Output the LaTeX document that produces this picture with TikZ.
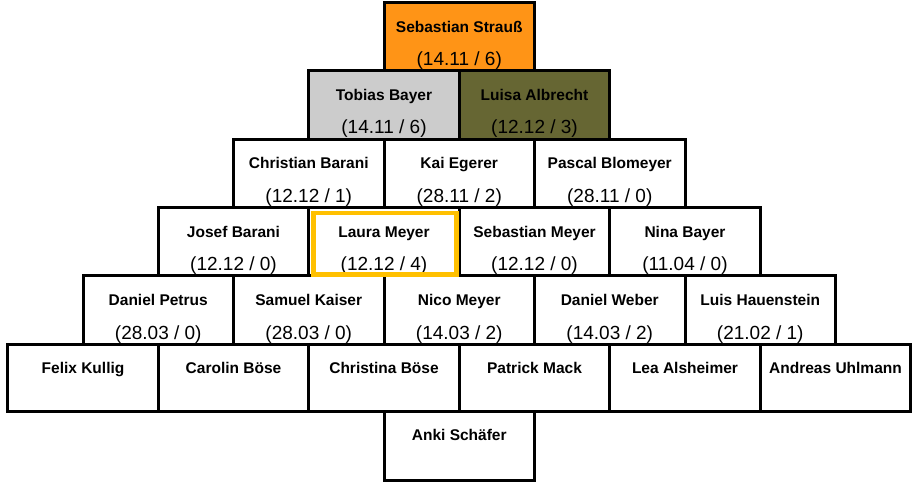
\documentclass[tikz,border=0pt]{standalone}
\usepackage{fontspec}
\setmainfont{Liberation Sans}
\usetikzlibrary{calc}
\definecolor{sorange}{RGB}{255,148,22}
\definecolor{sgrey}{RGB}{204,204,204}
\definecolor{solive}{RGB}{102,102,51}
\definecolor{syellow}{RGB}{255,192,0}
\pgfdeclarelayer{bg}
\pgfsetlayers{bg,main}
\tikzset{
  cellbox/.style={draw=black, line width=3pt, rectangle, inner sep=0pt, outer sep=0pt,
    minimum width=150.5pt, minimum height=#1, anchor=north west},
  cellbox/.default=68pt,
  nametext/.style={font=\fontsize{15.5}{16}\selectfont\bfseries, inner sep=0pt, text=black, anchor=base},
  datetext/.style={font=\fontsize{19}{20}\selectfont, inner sep=0pt, text=black, anchor=base},
  hilite/.style={draw=syellow, line width=4.5pt}
}
\newcommand\pcell[7]{% id, x, y, height, fill, name, date
  \begin{pgfonlayer}{bg}
    \node[cellbox=#4, fill=#5] (#1) at (#2,#3) {};
  \end{pgfonlayer}
  \node[nametext] (#1n) at ($(#1.north)+(0,29.5)$) {#6};
  \node[datetext] (#1d) at ($(#1.north)+(0,63)$) {#7};
}
\begin{document}
\begin{tikzpicture}[x=1pt,y=-1pt]
\useasboundingbox (0,0) rectangle (918,486);
% row 0
\pcell{a0}{384}{3}{68pt}{sorange}{Sebastian Strauß}{(14.11 / 6)}
% row 1
\pcell{b0}{308.75}{71}{68.5pt}{sgrey}{Tobias Bayer}{(14.11 / 6)}
\pcell{b1}{459.25}{71}{68.5pt}{solive}{Luisa Albrecht}{(12.12 / 3)}
% row 2
\pcell{c0}{233.5}{139.5}{68.5pt}{white}{Christian Barani}{(12.12 / 1)}
\pcell{c1}{384}{139.5}{68.5pt}{white}{Kai Egerer}{(28.11 / 2)}
\pcell{c2}{534.5}{139.5}{68.5pt}{white}{Pascal Blomeyer}{(28.11 / 0)}
% row 3
\pcell{d0}{158.25}{208}{68pt}{white}{Josef Barani}{(12.12 / 0)}
\pcell{d1}{308.75}{208}{68pt}{white}{Laura Meyer}{(12.12 / 4)}
\pcell{d2}{459.25}{208}{68pt}{white}{Sebastian Meyer}{(12.12 / 0)}
\pcell{d3}{609.75}{208}{68pt}{white}{Nina Bayer}{(11.04 / 0)}
% row 4
\pcell{e0}{83}{276}{68pt}{white}{Daniel Petrus}{(28.03 / 0)}
\pcell{e1}{233.5}{276}{68pt}{white}{Samuel Kaiser}{(28.03 / 0)}
\pcell{e2}{384}{276}{68pt}{white}{Nico Meyer}{(14.03 / 2)}
\pcell{e3}{534.5}{276}{68pt}{white}{Daniel Weber}{(14.03 / 2)}
\pcell{e4}{685}{276}{68pt}{white}{Luis Hauenstein}{(21.02 / 1)}
% row 5
\pcell{f0}{7.75}{344}{67pt}{white}{Felix Kullig}{}
\pcell{f1}{158.25}{344}{67pt}{white}{Carolin Böse}{}
\pcell{f2}{308.75}{344}{67pt}{white}{Christina Böse}{}
\pcell{f3}{459.25}{344}{67pt}{white}{Patrick Mack}{}
\pcell{f4}{609.75}{344}{67pt}{white}{Lea Alsheimer}{}
\pcell{f5}{760.25}{344}{67pt}{white}{Andreas Uhlmann}{}
% row 6
\pcell{g0}{384}{411}{69pt}{white}{Anki Schäfer}{}
% highlight
\draw[hilite] ($(d1.north west)+(4.5,5.25)$) rectangle ($(d1.south east)+(-2.75,-1.25)$);
\end{tikzpicture}
\end{document}
